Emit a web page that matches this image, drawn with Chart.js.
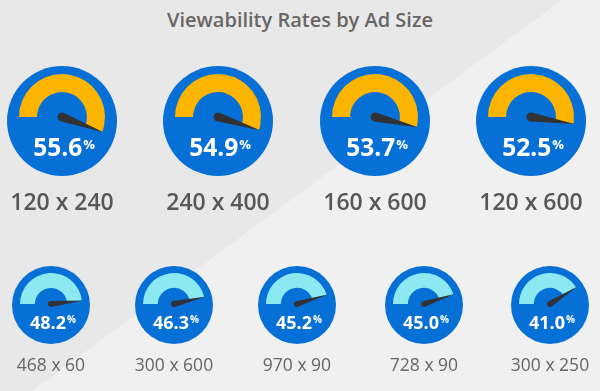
<!DOCTYPE html>
<html>
<head>
<meta charset="utf-8">
<script src="https://cdn.jsdelivr.net/npm/chart.js@4.4.1/dist/chart.umd.min.js"></script>
<style>
  html, body { margin: 0; padding: 0; }
  body { width: 600px; height: 391px; position: relative; overflow: hidden; background: #e8e8e8; font-family: "Open Sans", sans-serif; }
  #light { position: absolute; left: 0; top: 0; width: 600px; height: 391px; background: #f0f0f0;
           clip-path: polygon(562px 0, 600px 0, 600px 391px, 32px 391px); }
  #title { position: absolute; left: 0; width: 600px; top: 10px; text-align: center; font-size: 20px; line-height: 20px;
           font-weight: 600; color: #666; }
  .gauge { position: absolute; }
  .val { position: absolute; width: 120px; text-align: center; color: #fff; font-weight: 700; white-space: nowrap; }
  .pct { display: inline-block; position: relative; margin-left: 1px; }
  .lbl { position: absolute; width: 150px; text-align: center; white-space: nowrap; }
</style>
</head>
<body>
<div id="light"></div>
<div id="title"></div>
<script>
// ---- data ----
const title = 'Viewability Rates by Ad Size';
const topSizes = ['120 x 240', '240 x 400', '160 x 600', '120 x 600'];
const topRates = [55.6, 54.9, 53.7, 52.5];
const bottomSizes = ['468 x 60', '300 x 600', '970 x 90', '728 x 90', '300 x 250'];
const bottomRates = [48.2, 46.3, 45.2, 45.0, 41.0];
const scaleMax = 100;

document.getElementById('title').textContent = title;

// ---- layout ----
const rows = [
  { sizes: topSizes, rates: topRates, xs: [62, 218, 375, 531], cy: 121, Rc: 55, dy: 4, R: 43, cutout: '58%',
    needleB: 4.5, arcColor: '#fbb400', valFont: 24.5, valBaseline: 157, pctFont: 13, pctRaise: 7,
    lblFont: 23, lblWeight: 600, lblColor: '#575757', lblBaseline: 210 },
  { sizes: bottomSizes, rates: bottomRates, xs: [51, 174, 297, 424, 550], cy: 305, Rc: 39, dy: 1, R: 31, cutout: '52%',
    needleB: 3, arcColor: '#8ce9f2', valFont: 18, valBaseline: 329, pctFont: 10, pctRaise: 6,
    lblFont: 17.5, lblWeight: 400, lblColor: '#666', lblBaseline: 372 }
];
const BLUE = '#0670d6';
const NEEDLE = '#303236';
const ASC = 0.888; // baseline offset (em) for Open Sans with line-height 1

const discPlugin = {
  id: 'disc',
  beforeDraw(chart, args, opts) {
    const ctx = chart.ctx;
    ctx.save();
    ctx.fillStyle = BLUE;
    ctx.beginPath();
    ctx.arc(chart.width / 2, chart.height / 2, opts.r, 0, Math.PI * 2);
    ctx.fill();
    ctx.restore();
  }
};
const needlePlugin = {
  id: 'needle',
  afterDatasetsDraw(chart, args, opts) {
    const arc = chart.getDatasetMeta(0).data[0];
    const p = arc.getProps(['x', 'y', 'endAngle', 'outerRadius'], true);
    const ctx = chart.ctx;
    const b = opts.b, L = p.outerRadius + 1;
    ctx.save();
    ctx.translate(p.x, p.y);
    ctx.rotate(p.endAngle);
    ctx.fillStyle = NEEDLE;
    ctx.beginPath();
    ctx.moveTo(0, -b);
    ctx.lineTo(L, 0);
    ctx.lineTo(0, b);
    ctx.arc(0, 0, b, Math.PI / 2, Math.PI * 1.5);
    ctx.closePath();
    ctx.fill();
    ctx.restore();
  }
};

rows.forEach(row => {
  row.rates.forEach((v, i) => {
    const cx = row.xs[i];
    const S = 2 * row.Rc + 4;
    const wrap = document.createElement('div');
    wrap.className = 'gauge';
    wrap.style.left = (cx - S / 2) + 'px';
    wrap.style.top = (row.cy - S / 2) + 'px';
    const canvas = document.createElement('canvas');
    canvas.width = S; canvas.height = S;
    canvas.style.width = S + 'px'; canvas.style.height = S + 'px';
    wrap.appendChild(canvas);
    document.body.appendChild(wrap);
    new Chart(canvas, {
      type: 'doughnut',
      data: {
        labels: ['Viewable', 'Not viewable'],
        datasets: [{ data: [v, scaleMax - v], backgroundColor: [row.arcColor, 'rgba(0,0,0,0)'], borderWidth: 0 }]
      },
      options: {
        responsive: false, animation: false, events: [],
        rotation: -90, circumference: 360, cutout: row.cutout, radius: row.R,
        layout: { padding: { top: 0, bottom: 2 * row.dy, left: 0, right: 0 } },
        plugins: { legend: { display: false }, tooltip: { enabled: false }, disc: { r: row.Rc }, needle: { b: row.needleB } }
      },
      plugins: [discPlugin, needlePlugin]
    });

    const val = document.createElement('div');
    val.className = 'val';
    val.style.fontSize = row.valFont + 'px';
    val.style.lineHeight = row.valFont + 'px';
    val.style.left = (cx - 60 + 2) + 'px';
    val.style.top = (row.valBaseline - ASC * row.valFont) + 'px';
    val.textContent = v.toFixed(1);
    const pct = document.createElement('span');
    pct.className = 'pct';
    pct.style.fontSize = row.pctFont + 'px';
    pct.style.top = (-row.pctRaise) + 'px';
    pct.textContent = '%';
    val.appendChild(pct);
    document.body.appendChild(val);

    const lbl = document.createElement('div');
    lbl.className = 'lbl';
    lbl.style.fontSize = row.lblFont + 'px';
    lbl.style.lineHeight = row.lblFont + 'px';
    lbl.style.fontWeight = row.lblWeight;
    lbl.style.color = row.lblColor;
    lbl.style.left = (cx - 75) + 'px';
    lbl.style.top = (row.lblBaseline - ASC * row.lblFont) + 'px';
    lbl.textContent = row.sizes[i];
    document.body.appendChild(lbl);
  });
});
</script>
</body>
</html>
